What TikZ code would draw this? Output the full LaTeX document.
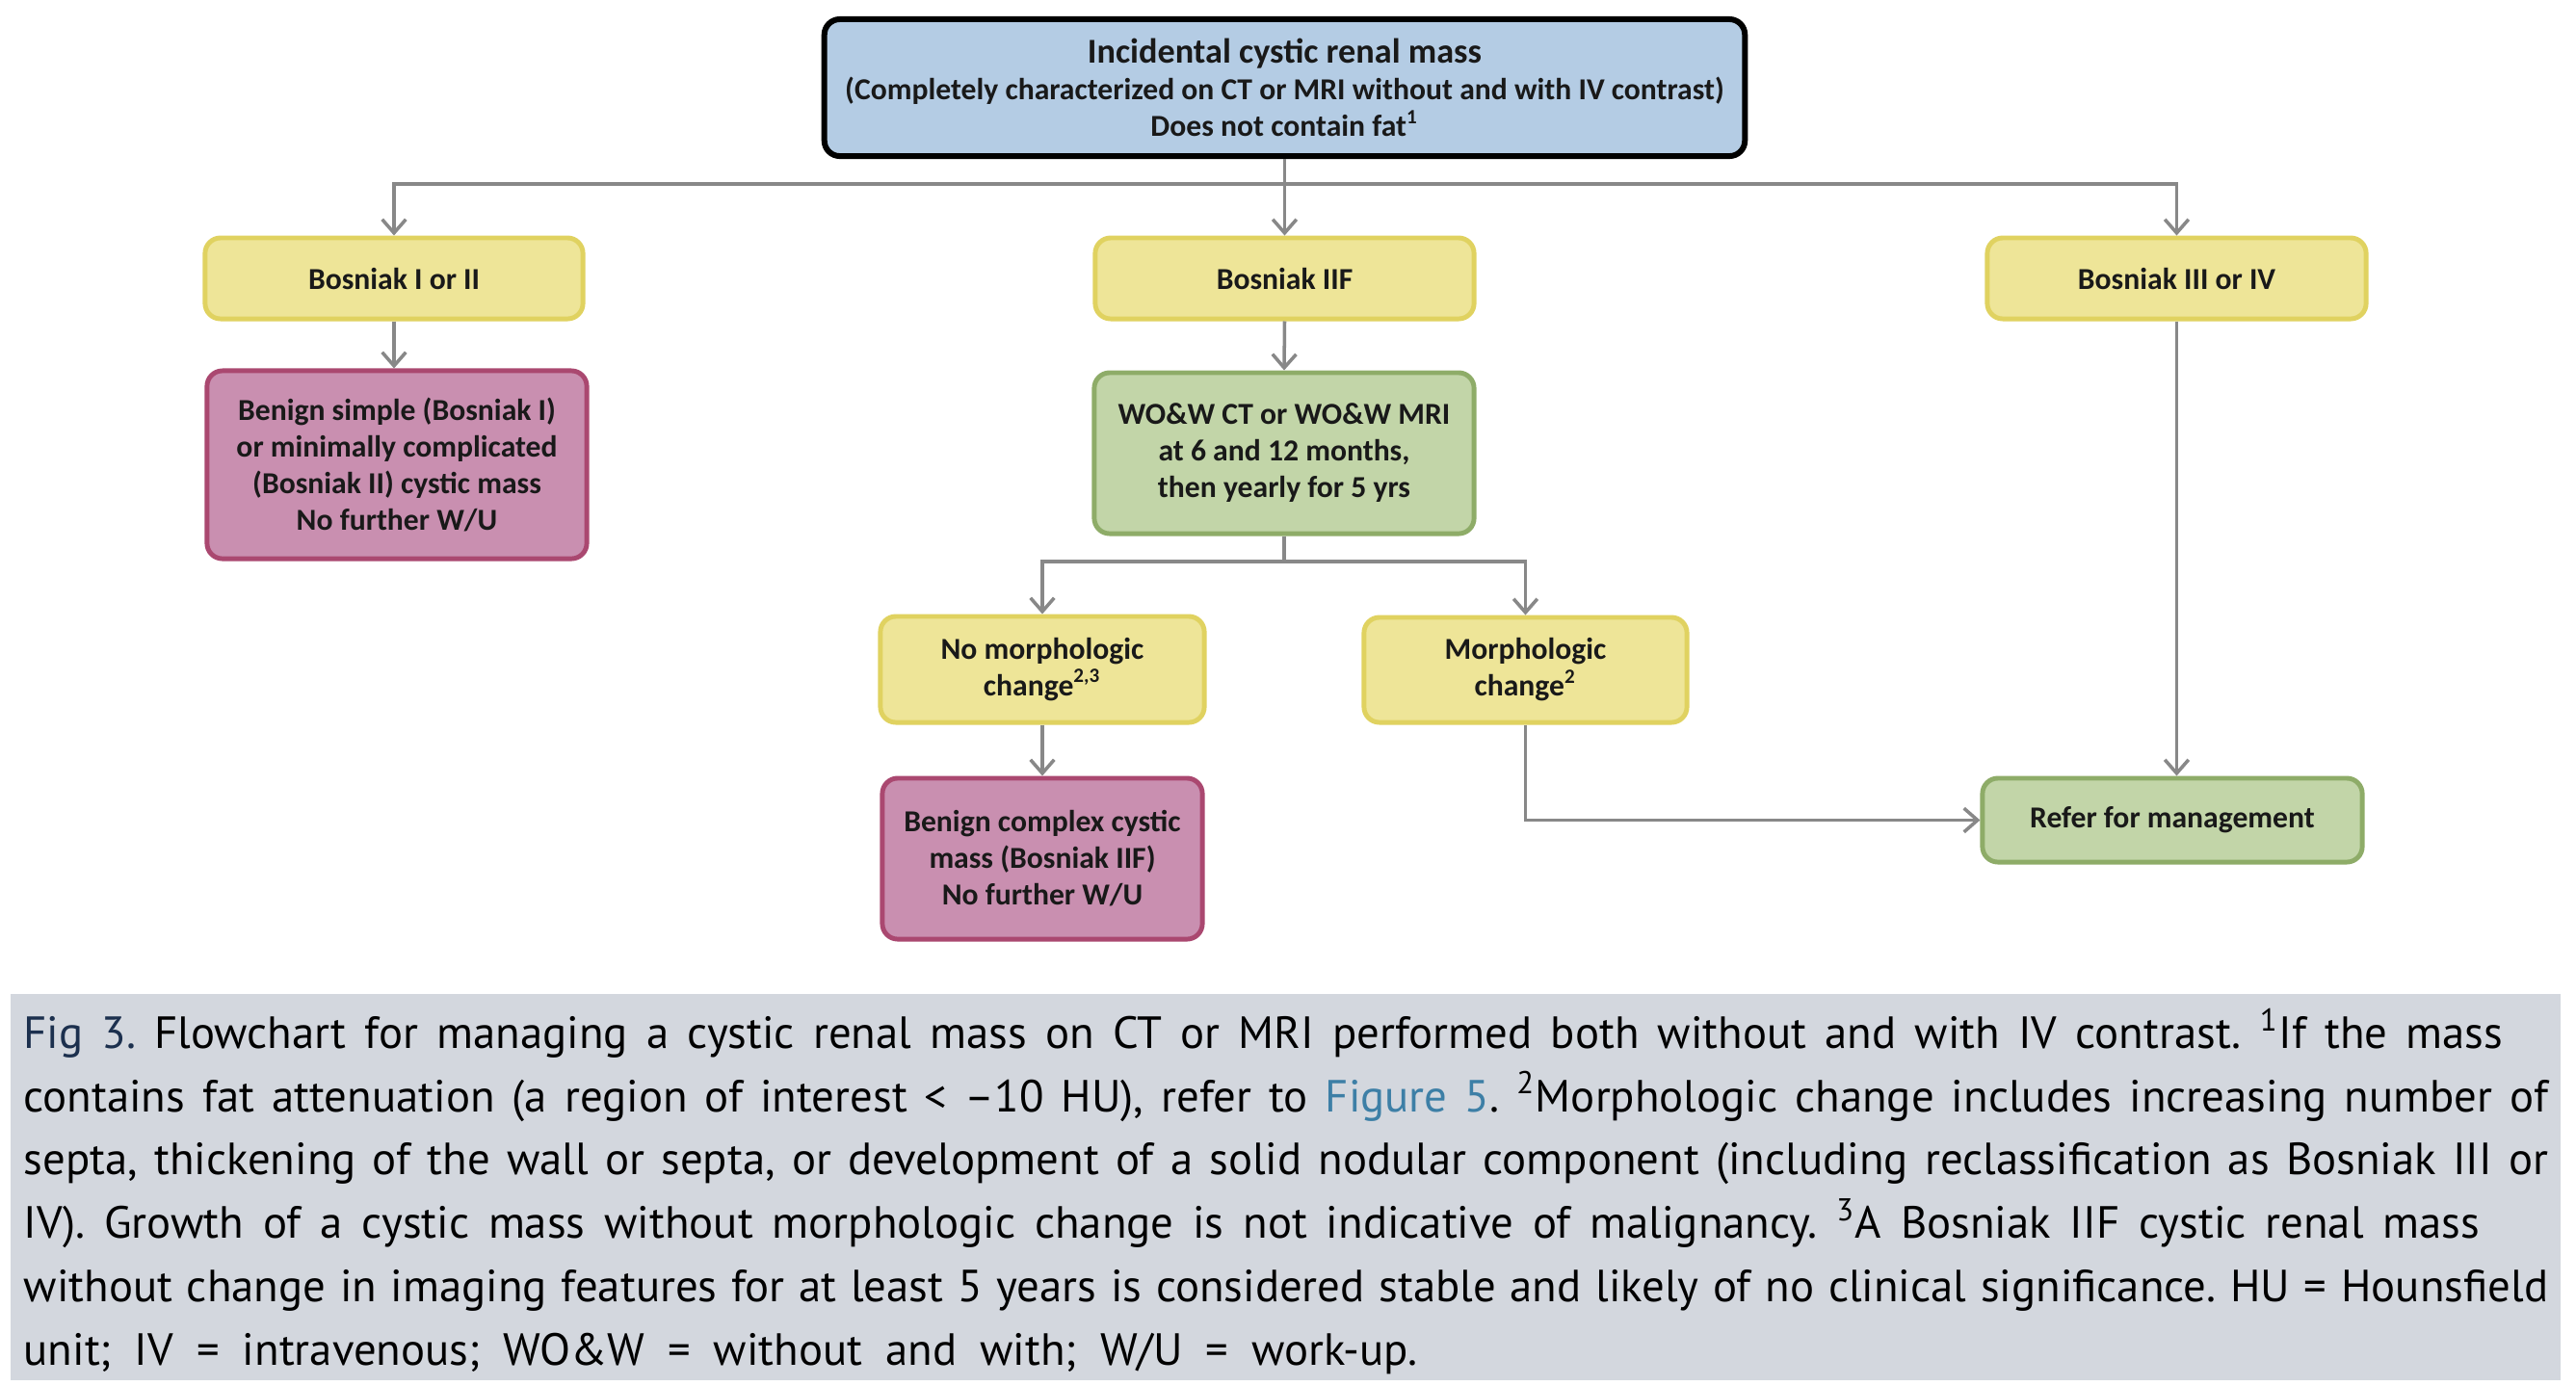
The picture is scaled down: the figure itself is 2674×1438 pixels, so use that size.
\documentclass[tikz,border=0pt]{standalone}
\usepackage{fontspec}
\setmainfont{Carlito}
\newfontfamily\boxfont{Carlito}
\newfontfamily\capfont{PT Sans}
\usetikzlibrary{arrows.meta}
\definecolor{topfill}{RGB}{180,204,228}
\definecolor{yelfill}{RGB}{238,229,152}
\definecolor{yeldraw}{RGB}{224,210,96}
\definecolor{pinkfill}{RGB}{201,143,176}
\definecolor{pinkdraw}{RGB}{170,72,112}
\definecolor{grnfill}{RGB}{194,213,168}
\definecolor{grndraw}{RGB}{142,172,104}
\definecolor{conncol}{RGB}{136,136,136}
\definecolor{capbg}{RGB}{211,215,222}
\definecolor{capnavy}{RGB}{28,48,78}
\definecolor{linkblue}{RGB}{61,127,166}
\newcommand{\capline}[2]{\makebox[#1cm][s]{#2}}
\frenchspacing
\tikzset{
  basebox/.style={rounded corners=0.16cm, align=center, inner sep=2pt,
    font=\boxfont\bfseries\fontsize{9}{10.8}\selectfont, text=black!90},
  topbox/.style={basebox, fill=topfill, draw=black, line width=1.7pt},
  yelbox/.style={basebox, fill=yelfill, draw=yeldraw, line width=1.4pt},
  pinkbox/.style={basebox, fill=pinkfill, draw=pinkdraw, line width=1.4pt},
  grnbox/.style={basebox, fill=grnfill, draw=grndraw, line width=1.4pt},
  conn/.style={draw=conncol, line width=1pt},
  arr/.style={conn, -{Straight Barb[length=4pt,width=7pt,line width=1pt]}},
}
\begin{document}
\begin{tikzpicture}[x=0.01cm,y=-0.01cm]
\useasboundingbox (0,0) rectangle (2674,1438);
\fill[white] (0,0) rectangle (2674,1438);
% boxes
\node[topbox, minimum width=9.55cm, minimum height=1.42cm] (top) at (1333.5,91)
  {{\fontsize{10.3}{12}\selectfont Incidental cystic renal mass}\\
   (Completely characterized on CT or MRI without and with IV contrast)\\
   Does not contain fat\textsuperscript{1}};
\node[yelbox, minimum width=3.92cm, minimum height=0.84cm] (b12) at (409,289) {Bosniak I or II};
\node[yelbox, minimum width=3.93cm, minimum height=0.84cm] (b2f) at (1333.5,289) {Bosniak IIF};
\node[yelbox, minimum width=3.93cm, minimum height=0.84cm] (b34) at (2259.5,289) {Bosniak III or IV};
\node[pinkbox, minimum width=3.94cm, minimum height=1.95cm] (pink1) at (412,482.5)
  {Benign simple (Bosniak I)\\ or minimally complicated\\ (Bosniak II) cystic mass\\ No further W/U};
\node[grnbox, minimum width=3.94cm, minimum height=1.67cm] (grn) at (1333,470.5)
  {WO\&W CT or WO\&W MRI\\ at 6 and 12 months,\\ then yearly for 5 yrs};
\node[yelbox, minimum width=3.36cm, minimum height=1.10cm] (nomorph) at (1082,695)
  {No morphologic\\ change\textsuperscript{2,3}};
\node[yelbox, minimum width=3.35cm, minimum height=1.09cm] (morph) at (1583.5,695.5)
  {Morphologic\\ change\textsuperscript{2}};
\node[pinkbox, minimum width=3.32cm, minimum height=1.67cm] (pink2) at (1082,891.5)
  {Benign complex cystic\\ mass (Bosniak IIF)\\ No further W/U};
\node[grnbox, minimum width=3.94cm, minimum height=0.87cm] (refer) at (2255,851.5)
  {Refer for management};
% connectors
\coordinate (hj) at (1333.5,191);
\draw[conn] (top.south) -- (hj);
\draw[arr] (hj) -| (b12.north);
\draw[arr] (hj) -- (b2f.north);
\draw[arr] (hj) -| (b34.north);
\draw[arr] (b12.south) -- (b12.south |- pink1.north);
\draw[arr] (b2f.south) -- (grn.north);
\coordinate (gj) at (1333,583);
\draw[conn] (grn.south) -- (gj);
\draw[arr] (gj) -| (nomorph.north);
\draw[arr] (gj) -| (morph.north);
\draw[arr] (nomorph.south) -- (pink2.north);
\draw[arr] (morph.south) |- (refer.west);
\draw[arr] (b34.south) -- (b34.south |- refer.north);
% caption
\node[fill=capbg, minimum width=26.45cm, minimum height=4.01cm, inner sep=0pt] (capbg) at (1334.5,1232.5) {};
\node[anchor=north west, inner sep=0pt, align=left,
      font=\capfont\fontsize{13.3}{18.7}\selectfont] (cap) at (24,1046)
  {\capline{25.72}{{\color{capnavy}Fig 3.} Flowchart for managing a cystic renal mass on CT or MRI performed both without and with IV contrast. \textsuperscript{1}If the mass}\\
   \capline{26.19}{contains fat attenuation (a region of interest < –10 HU), refer to {\color{linkblue}Figure 5}. \textsuperscript{2}Morphologic change includes increasing number of}\\
   \capline{26.19}{septa, thickening of the wall or septa, or development of a solid nodular component (including reclassification as Bosniak III or}\\
   \capline{25.48}{IV). Growth of a cystic mass without morphologic change is not indicative of malignancy. \textsuperscript{3}A Bosniak IIF cystic renal mass}\\
   \capline{26.19}{without change in imaging features for at least 5 years is considered stable and likely of no clinical significance. HU = Hounsfield}\\
   \capline{14.46}{unit; IV = intravenous; WO\&W = without and with; W/U = work-up.}};
\end{tikzpicture}
\end{document}
